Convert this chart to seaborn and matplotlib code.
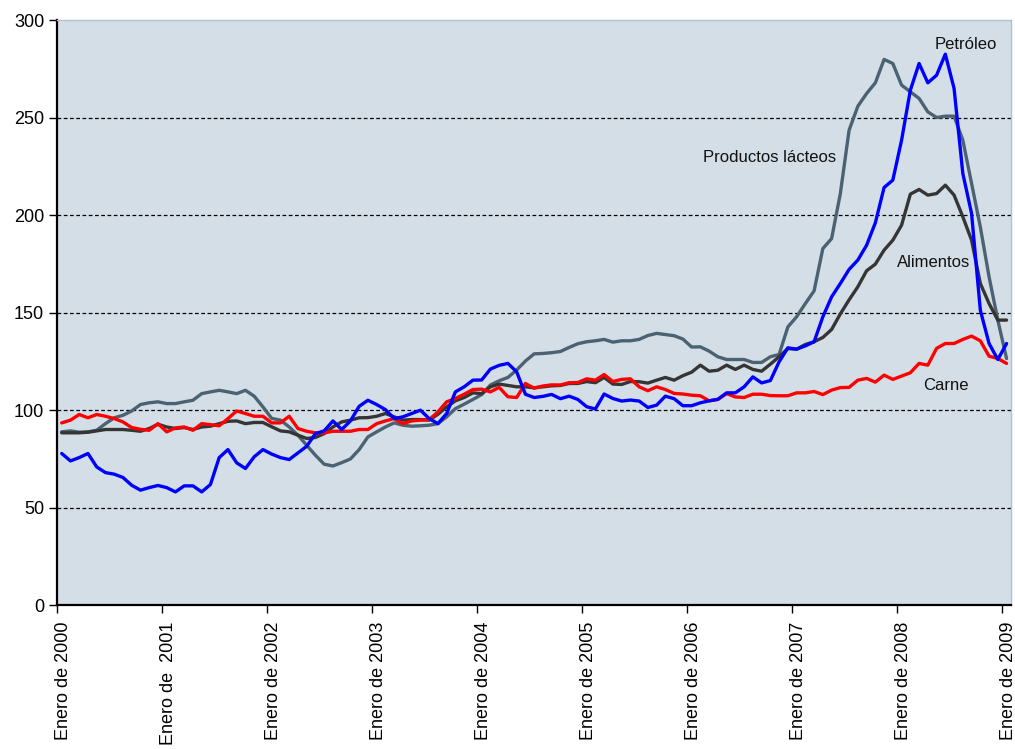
# precios de productos básicos, índices mensuales 2000-2009
import numpy as np
import pandas as pd
import seaborn as sns
import matplotlib.pyplot as plt
import matplotlib.transforms as mtransforms

# datos (enero 2000 - enero 2009, mensual)
petroleo = [77.8, 74, 75.7, 77.8, 70.9, 68, 67.2, 65.5, 61.5, 59, 60.3, 61.4, 60.3, 58.1, 61.2, 61.2, 58.1, 61.9, 75.7, 79.8, 73, 70.1, 76.1, 79.8,
            77.5, 75.7, 74.7, 78.1, 81.5, 88, 89.4, 94.5, 90.1, 94.5, 102, 105.1, 102.9, 100.3, 95.7, 96.6, 98.3, 100, 95.7, 93.1, 98.3, 109.4, 112, 115.4,
            115.5, 121.1, 123, 124, 119.7, 108.2, 106.5, 107.1, 108.1, 105.9, 107.2, 105.5, 101.8, 100.6, 108.3, 106, 104.7, 105.2, 104.7, 101.4, 102.6, 107.2, 105.9, 102.3,
            102.3, 103.8, 104.8, 105.6, 108.9, 108.9, 112, 117.1, 114, 115.2, 124.8, 132, 131.3, 133, 135.1, 147.9, 158.1, 165,
            172.2, 177, 184.6, 196.1, 214.2, 218, 238.5, 264.1, 277.8, 267.9, 271.8, 282.6, 265, 221.4, 200.9, 151.3, 134.2, 126, 134.2]

carne = [93.5, 94.9, 97.8, 96.1, 97.8, 96.9, 95.7, 94, 91.1, 90.2, 89.7, 93.1, 88.9, 90.9, 91.4, 89.7, 93.1, 92.6, 92, 95.7, 99.6, 98.3, 96.9, 96.9,
         93.5, 93.5, 96.9, 90.6, 89.2, 88.4, 88.4, 89.2, 89.2, 89.2, 90.1, 90.1, 93.1, 94.5, 95.7, 93.1, 94.5, 94.9, 95.2, 99.1, 104.3, 106, 108.2, 110.6,
         110.8, 109.4, 111.7, 106.9, 106.5, 113.7, 111.3, 112.4, 113, 112.9, 114.1, 114.2, 116.1, 115.4, 118.3, 114.7, 115.8, 116.1, 112, 110, 112, 110.6, 108.6, 108.3,
         107.7, 107.4, 104.8, 105.5, 108.5, 106.8, 106.5, 108.2, 108.2, 107.5, 107.4, 107.4, 108.9, 108.9, 109.6, 108, 110.3, 111.6,
         111.7, 115.4, 116.3, 114.4, 118, 115.8, 117.5, 119.2, 124, 123.1, 131.7, 134.2, 134.2, 136.3, 138, 135.6, 127.7, 126.5, 124]

alimentos = [88.4, 88.4, 88.4, 88.7, 89.4, 90.1, 90.1, 90.1, 89.7, 89.2, 90.6, 92.8, 91.4, 90.6, 91.1, 90.1, 91.4, 91.8, 93.1, 94.3, 94.5, 93.1, 93.7, 93.7,
             91.5, 89.4, 88.9, 87.2, 85.5, 86, 88, 91.4, 94, 94.9, 96.1, 96.2, 96.9, 98.3, 96.6, 94.9, 95.2, 95.2, 94.9, 97.9, 101.7, 104.8, 106.5, 108.9,
             108.5, 112, 113.4, 112.7, 112, 112, 111.5, 112, 112.5, 112.7, 113.7, 113.7, 114.7, 114.1, 116.8, 113.4, 113.2, 114.7, 114.6, 113.9, 115.4, 116.8, 115.4, 117.7,
             119.5, 123.1, 120, 120.5, 123.1, 120.9, 123.1, 120.9, 120, 123.6, 127.4, 131.6, 131.3, 133.7, 135.1, 137.3, 141.4, 149.4,
             156.6, 163.3, 171.5, 174.9, 182.1, 187.2, 194.9, 210.8, 213.2, 210.3, 211.1, 215.4, 210.3, 199.2, 187.2, 165, 154.7, 146.2, 146.2]

lacteos = [88.9, 89.4, 88.7, 88.9, 89.7, 93.1, 96.1, 97.4, 99.6, 102.9, 103.8, 104.3, 103.4, 103.4, 104.3, 105.1, 108.5, 109.4, 110.2, 109.4, 108.5, 110.2, 107.2, 101.7,
           95.8, 94.9, 91.4, 87.2, 82, 76.9, 72.3, 71.4, 73.1, 75, 79.8, 86.3, 88.9, 91.4, 93.5, 92.3, 91.8, 92, 92.3, 93.1, 96.6, 100.8, 103.1, 105.5,
           108, 112.9, 115.1, 116.8, 120.6, 125.2, 128.9, 129.1, 129.5, 130.1, 132.2, 134.1, 135.1, 135.6, 136.3, 134.9, 135.6, 135.6, 136.3, 138.3, 139.4, 138.8, 138.2, 136.5,
           132.4, 132.5, 130.3, 127.4, 126, 126, 126, 124.5, 124.5, 127.4, 128.6, 142.7, 147.9, 154.7, 161.2, 182.9, 188, 211.1,
           243.6, 255.9, 262.4, 267.9, 279.9, 277.8, 266.7, 263.3, 259.9, 253, 250.1, 250.8, 250.8, 238.5, 216.3, 194, 168.4, 146.2, 126.5]

series = ["Productos lácteos", "Alimentos", "Carne", "Petróleo"]
colores = ["#4B6272", "#353535", "#FF0000", "#0000FF"]
anios = list(range(2000, 2010))
etiquetas = ["Enero de %d" % a for a in anios]
etiquetas[1] = "Enero de  2001"

meses = np.arange(len(petroleo)) + 0.5
df = pd.concat([
    pd.DataFrame({"mes": meses, "valor": lacteos, "serie": series[0]}),
    pd.DataFrame({"mes": meses, "valor": alimentos, "serie": series[1]}),
    pd.DataFrame({"mes": meses, "valor": carne, "serie": series[2]}),
    pd.DataFrame({"mes": meses, "valor": petroleo, "serie": series[3]}),
])

sns.set_style("ticks")
plt.rcParams["font.family"] = ["Liberation Sans", "DejaVu Sans"]

fig = plt.figure(figsize=(10.15, 7.49), dpi=100)
ax = fig.add_axes([0.0565, 0.192, 0.9395, 0.781])
ax.set_facecolor("#D4DEE7")

sns.lineplot(data=df, x="mes", y="valor", hue="serie", hue_order=series,
             palette=colores, linewidth=2.4, legend=False, ax=ax)

ax.set_xlim(0, 109)
ax.set_ylim(0, 300)
ax.set_yticks(range(0, 301, 50))
ax.set_xticks([12 * k for k in range(len(anios))])

for y in range(50, 300, 50):
    ax.axhline(y, color="black", linestyle=(0, (3, 2)), linewidth=0.9, zorder=0.5)

ax.tick_params(axis="both", labelsize=13, direction="out", length=6, width=1, colors="black")
ax.tick_params(axis="x", pad=6)
ax.set_xlabel("")
ax.set_ylabel("")
for s in ["left", "bottom"]:
    ax.spines[s].set_color("black")
    ax.spines[s].set_linewidth(1.6)
for s in ["top", "right"]:
    ax.spines[s].set_color("#AFC0D0")
    ax.spines[s].set_linewidth(1)

txt = dict(fontsize=12, ha="center", va="center", color="#111111")
ax.text(103.8, 287.7, "Petróleo", **txt)
ax.text(81.4, 229.7, "Productos lácteos", **txt)
ax.text(100.2, 175.9, "Alimentos", **txt)
ax.text(101.6, 112.8, "Carne", **txt)

# etiquetas del eje x: verticales, un poco a la derecha de cada marca
ax.set_xticklabels(etiquetas, rotation=90, ha="center", va="top")
desplazamiento = mtransforms.ScaledTranslation(6 / 100, 0, fig.dpi_scale_trans)
for tick in ax.xaxis.get_major_ticks():
    tick.label1.set_transform(tick.label1.get_transform() + desplazamiento)

fig.savefig("out.png", dpi=100)
